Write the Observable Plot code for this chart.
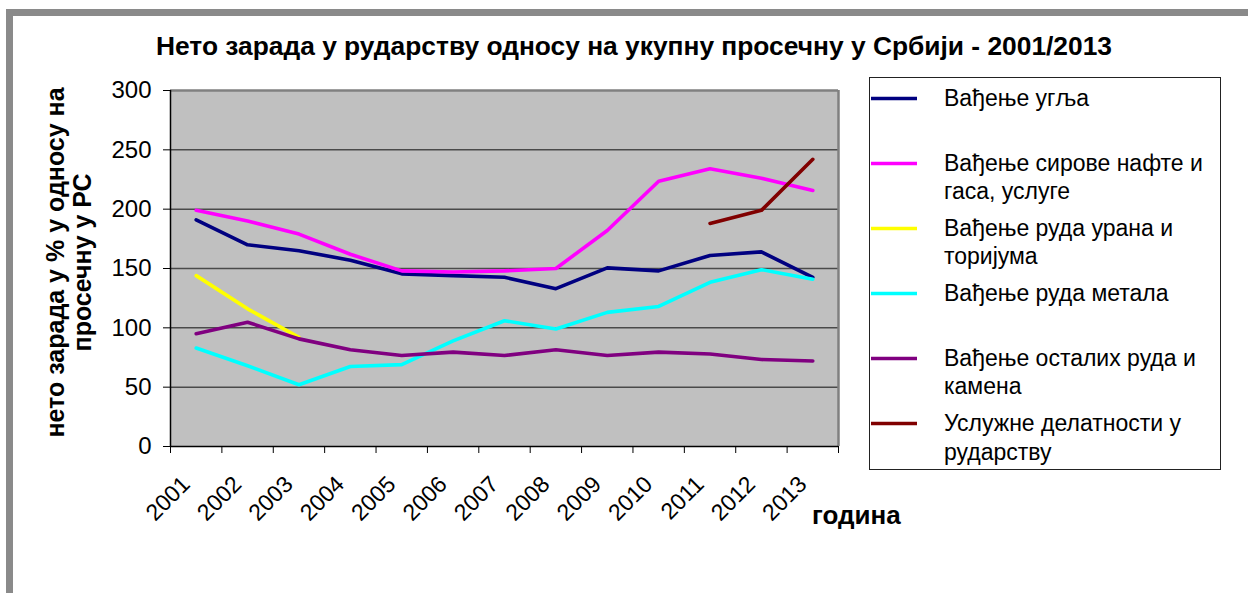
<!DOCTYPE html>
<html><head><meta charset="utf-8">
<script src="https://cdn.jsdelivr.net/npm/d3@7"></script>
<script src="https://cdn.jsdelivr.net/npm/@observablehq/plot@0.6"></script>
<style>
body{margin:0;background:#fff;}
#wrap{position:relative;width:1248px;height:593px;overflow:hidden;font-family:"Liberation Sans",Arial,sans-serif;color:#000;}
#wrap svg{position:absolute;left:0;top:0;}
.bar{position:absolute;background:#8a8a8a;}
#title{position:absolute;top:31px;left:0;white-space:nowrap;font-weight:bold;font-size:26px;transform-origin:left top;}
#xlab{position:absolute;left:812px;top:500px;font-weight:bold;font-size:26px;white-space:nowrap;}
#legend{position:absolute;left:869px;top:77px;width:352px;height:393px;border:1.5px solid #222;background:#fff;box-sizing:border-box;}
.entry{position:absolute;left:0;width:350px;font-size:23px;line-height:28.5px;}
.entry svg{position:absolute;left:23px;top:0;}
.entry span{position:absolute;left:74px;top:0;width:275px;white-space:nowrap;}
</style></head><body><div id="wrap">
<div class="bar" style="left:6px;top:9px;width:1242px;height:7px"></div>
<div class="bar" style="left:6px;top:9px;width:7px;height:584px"></div>
</div>
<script>
const years = [2001,2002,2003,2004,2005,2006,2007,2008,2009,2010,2011,2012,2013];
const coal     = [191,170,165,157,145.5,144,142.6,133,150.5,148,161,164,142.6];
const oilGas   = [199,190,179,162,148,147,148,150,182,223.5,234,226,215.7];
const uranium  = [144,116,92,null,null,null,null,null,null,null,null,null,null];
const metal    = [83,68,52,67.4,69,89,106,99,113,118,138.4,149,141];
const otherOre = [95,104.7,90.7,81.5,76.7,79.5,76.7,81.5,76.7,79.5,78,73.3,72];
const services = [null,null,null,null,null,null,null,null,null,null,188,199,242];
const seriesNames = [
  "Вађење угља",
  "Вађење сирове нафте и гаса, услуге",
  "Вађење руда урана и торијума",
  "Вађење руда метала",
  "Вађење осталих руда и камена",
  "Услужне делатности у рударству"
];
const legendLines = [
  ["Вађење угља"],
  ["Вађење сирове нафте и","гаса, услуге"],
  ["Вађење руда урана и","торијума"],
  ["Вађење руда метала"],
  ["Вађење осталих руда и","камена"],
  ["Услужне делатности у","рударству"]
];
const seriesColors = ["#000080","#ff00ff","#ffff00","#00ffff","#800080","#800000"];
const seriesValues = [coal, oilGas, uranium, metal, otherOre, services];
const yTicks = [0,50,100,150,200,250,300];
const titleText = "Нето зарада у рударству односу на укупну просечну у Србији - 2001/2013";
const yLabel = "нето зарада у % у односу на\nпросечну у РС";
const xLabel = "година";

const rows = [];
seriesNames.forEach((s, i) => {
  years.forEach((yr, j) => {
    const v = seriesValues[i][j];
    if (v != null) rows.push({year: yr, value: v, series: s});
  });
});
const bounds = years.map(y => y - 0.5).concat([years[years.length-1] + 0.5]);
const x0 = bounds[0], x1 = bounds[bounds.length-1];

const plot = Plot.plot({
  width: 1248, height: 593,
  marginLeft: 170, marginRight: 410, marginTop: 90, marginBottom: 147,
  style: {fontFamily: '"Liberation Sans", Arial, sans-serif', fontSize: "22px", background: "transparent", color: "#000", overflow: "visible"},
  x: {domain: [x0, x1], axis: null},
  y: {domain: [0, 300], axis: null},
  color: {domain: seriesNames, range: seriesColors},
  marks: [
    Plot.frame({fill: "#c0c0c0", stroke: null}),
    Plot.ruleY(yTicks.filter(d => d > 0 && d < 300), {stroke: "#4a4a4a", strokeWidth: 1.5}),
    Plot.ruleY([300], {stroke: "#808080", strokeWidth: 2.5}),
    Plot.ruleX([x1], {stroke: "#808080", strokeWidth: 2.5}),
    Plot.line(rows, {x: "year", y: "value", z: "series", stroke: "series", strokeWidth: 3.6}),
    Plot.ruleX([x0], {stroke: "#000", strokeWidth: 1.5}),
    Plot.ruleY([0], {stroke: "#000", strokeWidth: 1.5}),
    Plot.axisY({ticks: yTicks, tickSize: 7, tickPadding: 12, tickFormat: d => String(d), fontSize: 24, label: null}),
    Plot.axisX({ticks: bounds, tickSize: 7, tickFormat: () => "", label: null}),
    Plot.axisX({ticks: years, tickSize: 0, tickRotate: -45, tickPadding: 34, dx: -10, tickFormat: d => String(d), fontSize: 23, label: null}),
    Plot.text([yLabel], {frameAnchor: "left", rotate: -90, dx: -102, dy: -6, fontWeight: "bold", fontSize: 25, lineHeight: 1.08, lineAnchor: "middle", textAnchor: "middle"})
  ]
});
const wrap = document.getElementById("wrap");
wrap.insertBefore(plot, wrap.firstChild);

const t = document.createElement("div");
t.id = "title"; t.textContent = titleText;
wrap.appendChild(t);
const w = t.getBoundingClientRect().width;
const target = 956;
t.style.transform = `scaleX(${target / w})`;
t.style.left = (634 - target / 2) + "px";

const xl = document.createElement("div");
xl.id = "xlab"; xl.textContent = xLabel;
wrap.appendChild(xl);

const lg = document.createElement("div");
lg.id = "legend";
legendLines.forEach((lines, i) => {
  const e = document.createElement("div");
  e.className = "entry";
  e.style.top = (5.5 + i * 65.1) + "px";
  e.innerHTML = `<svg width="48" height="28"><line x1="1" x2="47" y1="14.5" y2="14.5" stroke="${seriesColors[i]}" stroke-width="3.5"/></svg><span>${lines.join("<br>")}</span>`;
  lg.appendChild(e);
});
wrap.appendChild(lg);
</script>
</body></html>
